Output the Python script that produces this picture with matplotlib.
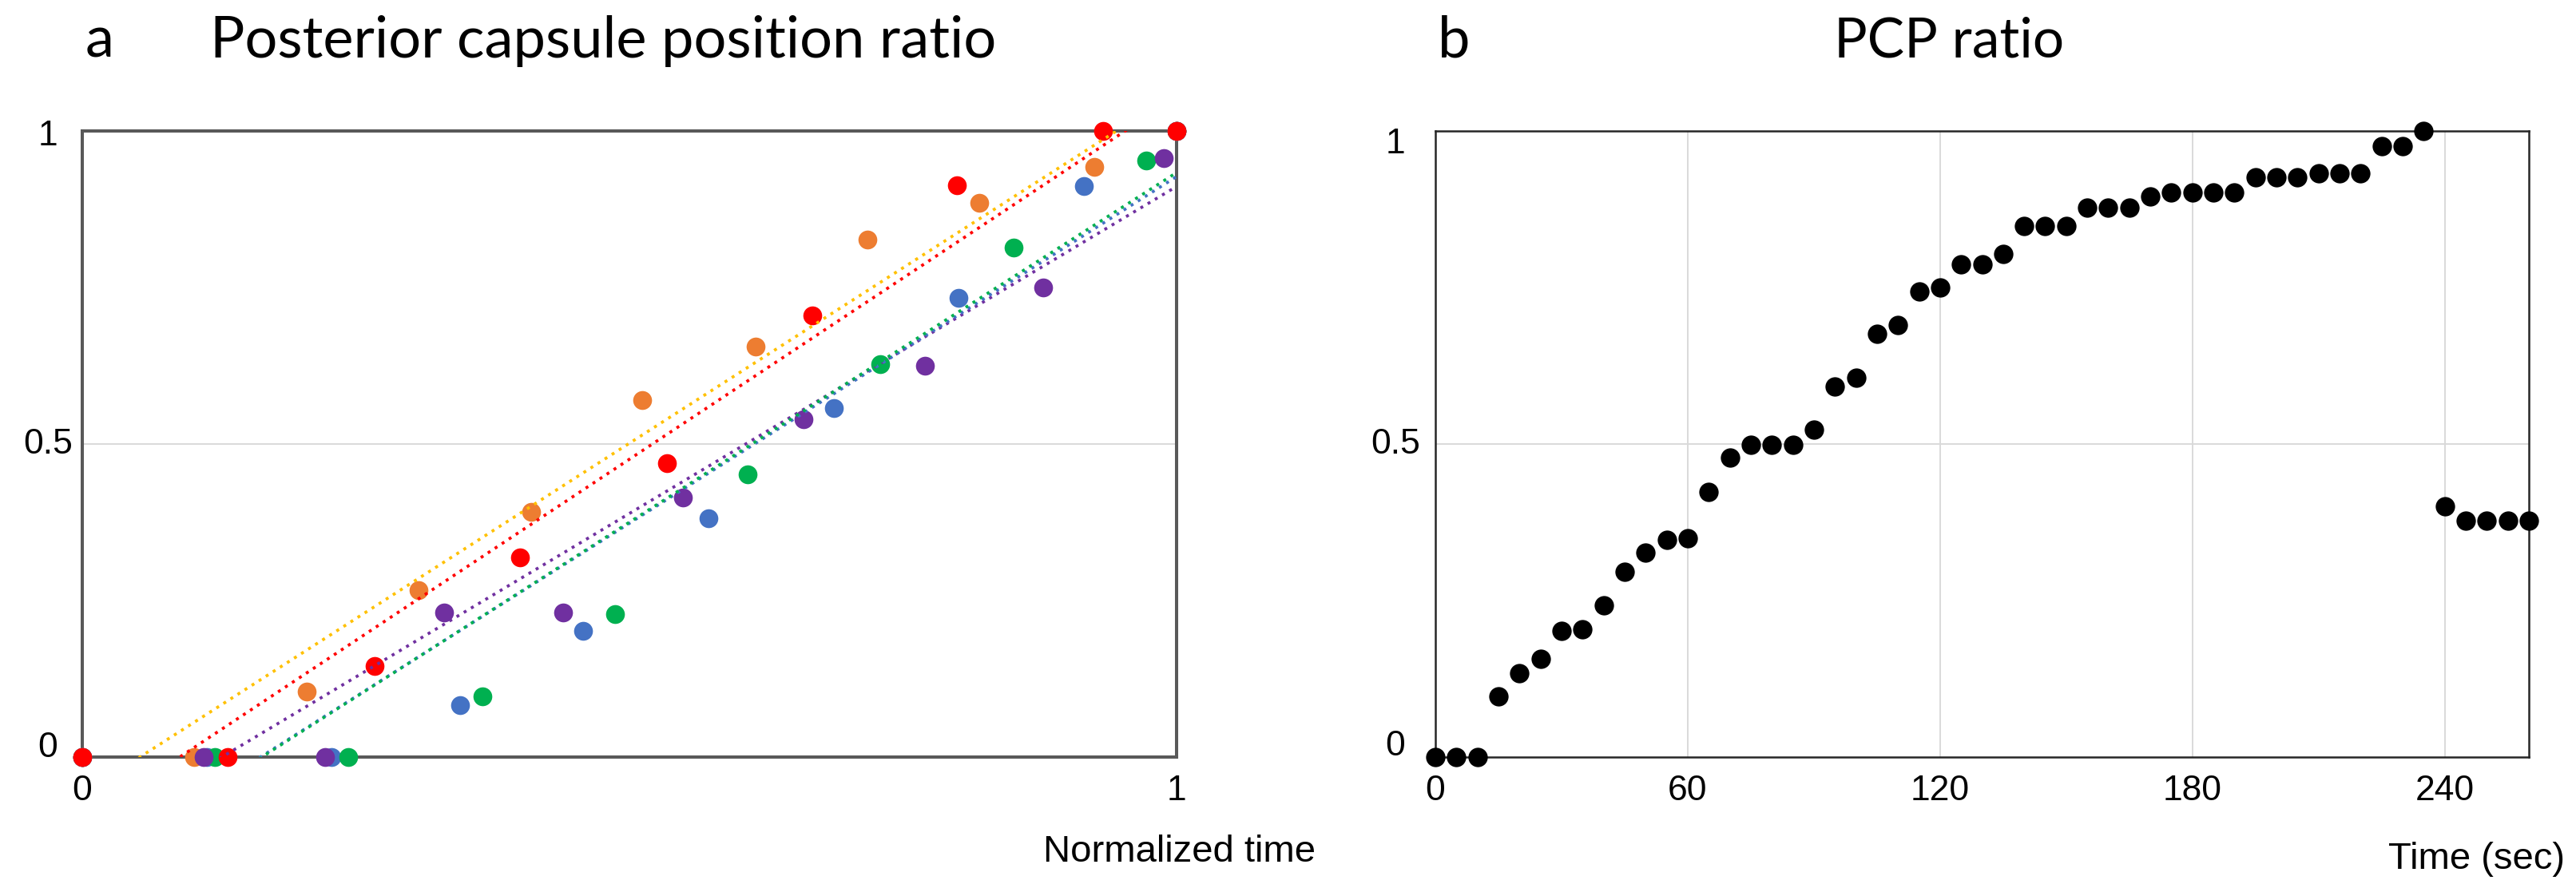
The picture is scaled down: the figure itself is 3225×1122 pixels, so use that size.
import numpy as np
import matplotlib
matplotlib.use("Agg")
import matplotlib.pyplot as plt
from matplotlib.transforms import offset_copy

# ---------------- data: panel a (normalized time, PCP ratio) ----------------
red_x = [0, 0.133, 0.267, 0.400, 0.534, 0.667, 0.799, 0.933, 1.0]
red_y = [0, 0, 0.145, 0.319, 0.469, 0.705, 0.913, 1.0, 1.0]

orange_x = [0, 0.102, 0.205, 0.307, 0.410, 0.512, 0.615, 0.7175, 0.820, 0.925, 1.0]
orange_y = [0, 0, 0.104, 0.267, 0.391, 0.570, 0.655, 0.827, 0.885, 0.942, 1.0]

purple_x = [0, 0.111, 0.222, 0.331, 0.4396, 0.549, 0.659, 0.770, 0.878, 0.988, 1.0]
purple_y = [0, 0, 0, 0.231, 0.231, 0.414, 0.540, 0.625, 0.750, 0.956, 1.0]

blue_x = [0, 0.114, 0.228, 0.345, 0.458, 0.5726, 0.687, 0.8005, 0.915, 1.0]
blue_y = [0, 0, 0, 0.083, 0.201, 0.381, 0.557, 0.733, 0.912, 1.0]

green_x = [0, 0.121, 0.243, 0.366, 0.487, 0.6077, 0.729, 0.851, 0.972, 1.0]
green_y = [0, 0, 0, 0.097, 0.228, 0.452, 0.628, 0.814, 0.953, 1.0]

# ---------------- data: panel b (time in sec, PCP ratio) ----------------
time_sec = [0, 5, 10, 15, 20, 25, 30, 35, 40, 45, 50, 55, 60, 65, 70, 75, 80, 85,
            90, 95, 100, 105, 110, 115, 120, 125, 130, 135, 140, 145, 150, 155,
            160, 165, 170, 175, 180, 185, 190, 195, 200, 205, 210, 215, 220, 225,
            230, 235, 240, 245, 250, 255, 260]
pcp_ratio = [0, 0, 0, 0.097, 0.1345, 0.157, 0.202, 0.204, 0.242, 0.296, 0.326,
             0.347, 0.350, 0.424, 0.478, 0.499, 0.499, 0.499, 0.523, 0.592,
             0.6055, 0.676, 0.690, 0.743, 0.750, 0.787, 0.787, 0.803, 0.848,
             0.848, 0.848, 0.878, 0.878, 0.878, 0.895, 0.902, 0.902, 0.902,
             0.902, 0.926, 0.926, 0.926, 0.933, 0.933, 0.933, 0.976, 0.976,
             1.0, 0.400, 0.377, 0.377, 0.377, 0.377]

a_xticks = [0, 1]
a_yticks = [0, 0.5, 1]
b_xticks = [0, 60, 120, 180, 240]
b_yticks = [0, 0.5, 1]
y_ticklabels = ["0", "0.5", "1"]

W, H = 3225, 1122
fig = plt.figure(figsize=(W / 100, H / 100), dpi=100)

TICKFONT = "Liberation Sans"
TITLEFONT = "Lato"

axL = fig.add_axes([103 / W, 1 - 948 / H, 1370 / W, 784 / H])
axR = fig.add_axes([1797 / W, 1 - 948 / H, 1369 / W, 784 / H])

# ---------------- panel a ----------------
series = [
    (blue_x, blue_y, "#4472C4", "#4472C4"),
    (orange_x, orange_y, "#ED7D31", "#FFC000"),
    (green_x, green_y, "#00B050", "#00B050"),
    (purple_x, purple_y, "#7030A0", "#7030A0"),
    (red_x, red_y, "#FF0000", "#FF0000"),
]
for xs, ys, c, tc in series:
    axL.plot(xs, ys, "o", ms=17, color=c, mec="none", clip_on=False, zorder=3)
xfit = np.linspace(0, 1, 200)
trend_order = [1, 4, 3, 0, 2]
for i in trend_order:
    xs, ys, c, tc = series[i]
    k, b0 = np.polyfit(xs, ys, 1)
    axL.plot(xfit, k * xfit + b0, color=tc, lw=2.7, linestyle=(0, (1, 1.8)),
             dash_capstyle="butt", zorder=4)

axL.set_xlim(0, 1)
axL.set_ylim(0, 1)
axL.set_xticks(a_xticks)
axL.set_xticklabels(["0", "1"])
axL.set_yticks([])
axL.axhline(0.5, color="#d9d9d9", lw=1.4, zorder=0)
for s in axL.spines.values():
    s.set_color("#595959")
    s.set_linewidth(2.9)
axL.tick_params(axis="x", length=0, pad=16, labelsize=32)
for lab in axL.get_xticklabels():
    lab.set_fontfamily(TICKFONT)

# y tick labels, centred left of the axis (Excel style offsets)
ylab_off_L = [11, 0, -6]   # pixel offsets (positive = up)
for v, txt, off in zip(a_yticks, y_ticklabels, ylab_off_L):
    tr = offset_copy(axL.get_yaxis_transform(), fig=fig, x=-43, y=off, units="dots")
    axL.text(0, v, txt, transform=tr, ha="center", va="center",
             fontsize=32, family=TICKFONT)

# ---------------- panel b ----------------
axR.plot(time_sec, pcp_ratio, "o", ms=17.5, color="black", mec="none",
         clip_on=False, zorder=3)
axR.set_xlim(0, 260)
axR.set_ylim(0, 1)
axR.set_xticks(b_xticks)
axR.set_xticklabels([str(t) for t in b_xticks])
axR.set_yticks([])
for t in b_xticks[1:]:
    axR.axvline(t, color="#d9d9d9", lw=1.4, zorder=0)
axR.axhline(0.5, color="#d9d9d9", lw=1.4, zorder=0)
for s in axR.spines.values():
    s.set_color("#262626")
    s.set_linewidth(1.8)
axR.tick_params(axis="x", length=0, pad=16, labelsize=32)
for lab in axR.get_xticklabels():
    lab.set_fontfamily(TICKFONT)

ylab_off_R = [14, 0, -16]
for v, txt, off in zip(b_yticks, y_ticklabels, ylab_off_R):
    tr = offset_copy(axR.get_yaxis_transform(), fig=fig, x=-50, y=off, units="dots")
    axR.text(0, v, txt, transform=tr, ha="center", va="center",
             fontsize=32, family=TICKFONT)

# ---------------- texts ----------------
fig.text(107 / W, 1 - 72 / H, "a", fontsize=52, family=TITLEFONT, va="baseline", ha="left")
fig.text(263 / W, 1 - 72 / H, "Posterior capsule position ratio", fontsize=52,
         family=TITLEFONT, va="baseline", ha="left")
fig.text(1800 / W, 1 - 72 / H, "b", fontsize=52, family=TITLEFONT, va="baseline", ha="left")
fig.text(2440 / W, 1 - 72 / H, "PCP ratio", fontsize=50, family=TITLEFONT,
         va="baseline", ha="center")

fig.text(1476 / W, 1 - 1079 / H, "Normalized time", fontsize=34, family=TICKFONT,
         va="baseline", ha="center")
fig.text(3100 / W, 1 - 1088 / H, "Time (sec)", fontsize=34, family=TICKFONT,
         va="baseline", ha="center")

fig.savefig("out.png", dpi=100, facecolor="white")
